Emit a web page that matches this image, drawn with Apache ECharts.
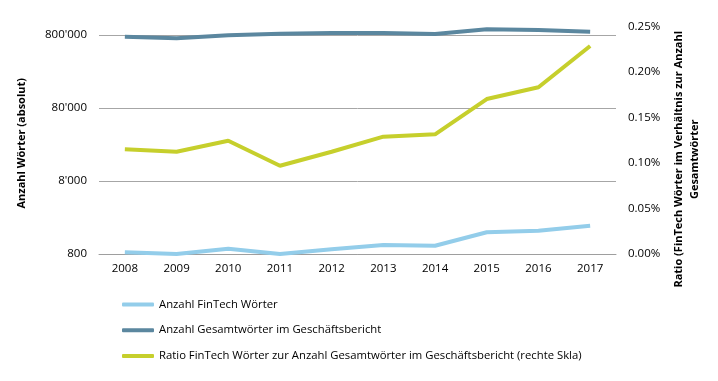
<!DOCTYPE html>
<html>
<head>
<meta charset="utf-8">
<script src="https://cdn.jsdelivr.net/npm/echarts@6/dist/echarts.min.js"></script>
<style>
html,body{margin:0;padding:0;background:#fff;}
#chart{width:718px;height:381px;}
</style>
</head>
<body>
<div id="chart"></div>
<script>
const years = ['2008','2009','2010','2011','2012','2013','2014','2015','2016','2017'];
const fintechWords = [844, 800, 946, 800, 928, 1062, 1039, 1586, 1668, 1954];
const totalWords = [758000, 721000, 792000, 834000, 852000, 852000, 826000, 958000, 937000, 888000];
const ratioPercent = [0.1151, 0.1124, 0.1245, 0.0970, 0.1124, 0.1289, 0.1315, 0.1703, 0.1832, 0.2286];
const leftTicks = [800, 8000, 80000, 800000];
const seriesNames = [
  'Anzahl FinTech Wörter',
  'Anzahl Gesamtwörter im Geschäftsbericht',
  'Ratio FinTech Wörter zur Anzahl Gesamtwörter im Geschäftsbericht (rechte Skla)'
];

const FONT = '"Open Sans", sans-serif';
const chart = echarts.init(document.getElementById('chart'), null, {renderer: 'canvas'});

function fmtThousands(v) {
  return String(Math.round(v)).replace(/\B(?=(\d{3})+(?!\d))/g, "'");
}

chart.setOption({
  animation: false,
  backgroundColor: '#ffffff',
  grid: {left: 99, right: 102, top: 26.5, bottom: 127, containLabel: false, outerBoundsMode: 'none'},
  legend: {
    orient: 'vertical',
    left: 122,
    top: 297.5,
    padding: 0,
    itemGap: 11.7,
    itemWidth: 32,
    itemHeight: 4,
    icon: 'roundRect',
    textStyle: {fontFamily: FONT, fontSize: 11.3, color: '#000', lineHeight: 14},
    data: seriesNames
  },
  xAxis: {
    type: 'category',
    data: years,
    boundaryGap: true,
    axisLine: {show: true, lineStyle: {color: '#9e9e9e', width: 1}},
    axisTick: {show: false},
    axisLabel: {fontFamily: FONT, fontSize: 11.5, color: '#000', margin: 9}
  },
  yAxis: [
    {
      type: 'log',
      logBase: 10,
      min: 800,
      max: 1045000,
      position: 'left',
      name: 'Anzahl Wörter (absolut)',
      nameLocation: 'middle',
      nameGap: 72,
      nameTextStyle: {fontFamily: FONT, fontSize: 11, fontWeight: 'bold', color: '#000', padding: [0, 6, 0, 0]},
      axisLine: {show: false},
      axisTick: {show: false, customValues: leftTicks},
      axisLabel: {
        fontFamily: FONT, fontSize: 11.5, color: '#000', margin: 12,
        customValues: leftTicks,
        formatter: v => fmtThousands(v)
      },
      splitLine: {show: true, lineStyle: {color: '#a6a6a6', width: 1}}
    },
    {
      type: 'value',
      min: 0,
      max: 0.25,
      interval: 0.05,
      position: 'right',
      name: 'Ratio (FinTech Wörter im Verhältnis zur Anzahl\nGesamtwörter',
      nameLocation: 'middle',
      nameGap: 55,
      nameTextStyle: {fontFamily: FONT, fontSize: 11, fontWeight: 'bold', color: '#000', lineHeight: 16, padding: [0, 38, 0, 0]},
      axisLine: {show: false},
      axisTick: {show: false},
      axisLabel: {
        fontFamily: FONT, fontSize: 11.5, color: '#000', margin: 12,
        formatter: v => v.toFixed(2) + '%'
      },
      splitLine: {show: false}
    }
  ],
  series: [
    {
      name: seriesNames[0],
      type: 'line',
      yAxisIndex: 0,
      data: fintechWords,
      symbol: 'none',
      clip: false,
      lineStyle: {color: '#93cdea', width: 4},
      itemStyle: {color: '#93cdea'}
    },
    {
      name: seriesNames[1],
      type: 'line',
      yAxisIndex: 0,
      data: totalWords,
      symbol: 'none',
      clip: false,
      lineStyle: {color: '#5b879f', width: 4},
      itemStyle: {color: '#5b879f'}
    },
    {
      name: seriesNames[2],
      type: 'line',
      yAxisIndex: 1,
      data: ratioPercent,
      symbol: 'none',
      clip: false,
      lineStyle: {color: '#c6cf2c', width: 4},
      itemStyle: {color: '#c6cf2c'}
    }
  ]
});
</script>
</body>
</html>
